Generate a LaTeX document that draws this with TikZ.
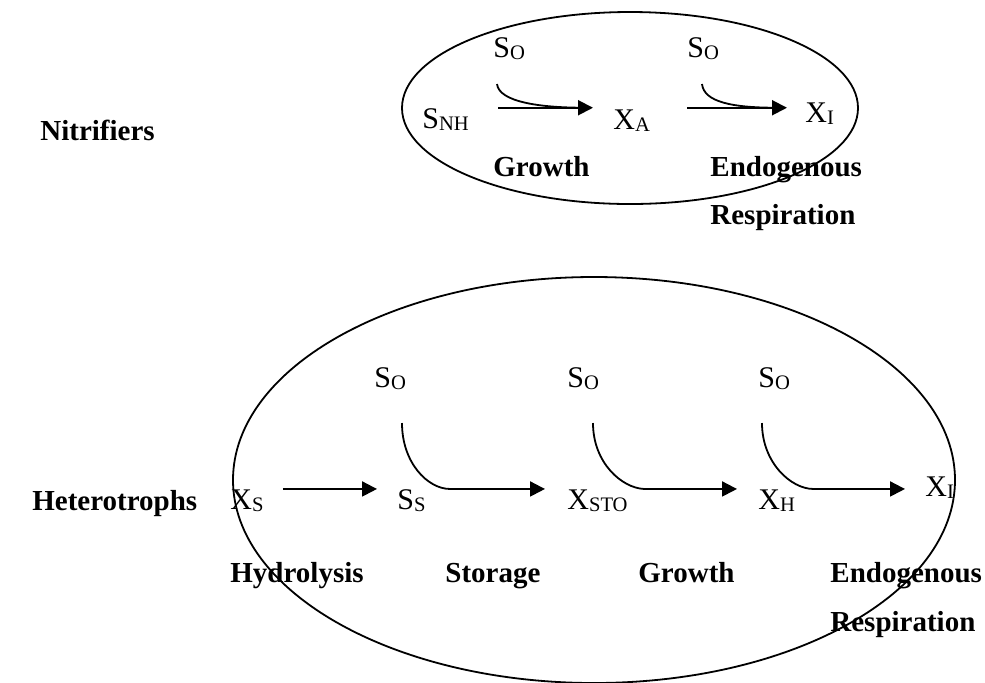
\documentclass[tikz,border=0pt]{standalone}
\usepackage{fontspec}
\setmainfont{Liberation Serif}
\usepackage{tikz}
\usetikzlibrary{arrows.meta,positioning}
\newcommand{\lowtxt}[1]{\raisebox{-1.2pt}{\fontsize{10.3}{11}\selectfont #1}}

\begin{document}
\begin{tikzpicture}[x=0.5pt, y=-0.5pt,
  species/.style={inner sep=0pt, anchor=base west, font=\fontsize{15}{17}\selectfont},
  process/.style={inner sep=0pt, anchor=base west, font=\fontsize{14.5}{17}\selectfont\bfseries},
  group/.style={inner sep=0pt, anchor=base west, font=\fontsize{14.5}{17}\selectfont\bfseries},
  flow/.style={line width=1pt, -{Triangle[length=7.5pt, width=7.5pt]}},
  oxy/.style={line width=0.9pt},
  cell/.style={line width=0.9pt},
]
  \useasboundingbox (0,0) rectangle (985,682);

  % nitrifiers
  \draw[cell] (630,108) ellipse [x radius=114pt, y radius=48pt];
  \node[group] (nitri) at (40,140) {Nitrifiers};
  \node[species] (snh)  at (422,128) {S\lowtxt{NH}};
  \node[species] (xa)   at (613,129) {X\lowtxt{A}};
  \node[species] (xia)  at (805,122) {X\lowtxt{I}};
  \node[species] (soa)  at (493,57)  {S\lowtxt{O}};
  \node[species] (sob)  at (687,57)  {S\lowtxt{O}};
  \node[process] (grwa) at (493,176) {Growth};
  \node[process] (enda) at (710,176) {Endogenous};
  \node[process] (resa) at (710,224) {Respiration};

  \draw[flow] ([xshift=14.5pt]snh.north east) -- ([xshift=-10pt]xa.west |- snh.north);
  \draw[flow] ([xshift=18.5pt]xa.east |- snh.north) -- ([xshift=-9pt]xia.west |- snh.north);
  \draw[oxy] ([shift={(4,24)}]soa.south west) .. controls +(2,18) and +(-45,0) .. ([xshift=-14pt]xa.west |- snh.north);
  \draw[oxy] ([shift={(15,24)}]sob.south west) .. controls +(2,18) and +(-45,0) .. ([xshift=-14pt]xia.west |- snh.north);

  % heterotrophs
  \draw[cell] (594,480) ellipse [x radius=180.5pt, y radius=101.5pt];
  \node[group] (hetero) at (32,510) {Heterotrophs};
  \node[species] (xs)   at (230,509) {X\lowtxt{S}};
  \node[species] (ss)   at (397,509) {S\lowtxt{S}};
  \node[species] (xsto) at (567,509) {X\lowtxt{STO}};
  \node[species] (xh)   at (758,509) {X\lowtxt{H}};
  \node[species] (xib)  at (925,496) {X\lowtxt{I}};
  \node[species] (soc)  at (374,387) {S\lowtxt{O}};
  \node[species] (sod)  at (567,387) {S\lowtxt{O}};
  \node[species] (soe)  at (758,387) {S\lowtxt{O}};
  \node[process] (hyd)  at (230,582) {Hydrolysis};
  \node[process] (sto)  at (445,582) {Storage};
  \node[process] (grwb) at (638,582) {Growth};
  \node[process] (endb) at (830,582) {Endogenous};
  \node[process] (resb) at (830,631) {Respiration};

  \draw[flow] ([xshift=9.5pt]xs.east |- xs.north) -- ([xshift=-10pt]ss.west |- xs.north);
  \draw[flow] ([xshift=11.5pt]ss.east |- xs.north) -- ([xshift=-11pt]xsto.west |- xs.north);
  \draw[flow] ([xshift=9pt]xsto.east |- xs.north) -- ([xshift=-10.5pt]xh.west |- xs.north);
  \draw[flow] ([xshift=8.5pt]xh.east |- xs.north) -- ([xshift=-10pt]xib.west |- xs.north);
  \draw[oxy] ([shift={(28,33)}]soc.south west) .. controls +(0,40) and +(-22,0) .. ([xshift=12pt]ss.east |- xs.north);
  \draw[oxy] ([shift={(26,33)}]sod.south west) .. controls +(0,40) and +(-22,-1) .. ([xshift=8pt]xsto.east |- xs.north)
    -- ([xshift=-24pt]xh.west |- xs.north);
  \draw[oxy] ([shift={(4,33)}]soe.south west) .. controls +(0,40) and +(-22,0) .. ([xshift=9pt]xh.east |- xs.north);
\end{tikzpicture}
\end{document}
